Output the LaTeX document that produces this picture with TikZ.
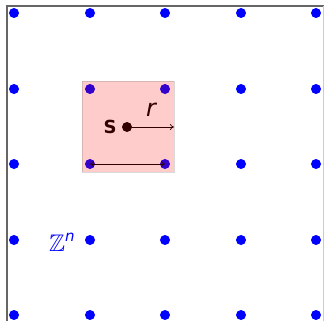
\documentclass[tikz,border=0pt]{standalone}
\usepackage{amssymb}
\usepackage{fontspec}
\setsansfont{DejaVu Sans}
\usetikzlibrary{arrows.meta}
\begin{document}
\begin{tikzpicture}[x=1pt,y=-1pt,
  latdot/.style={circle,fill=blue,inner sep=0pt,minimum size=10pt},
  arr/.style={draw=black,line width=0.7pt},
  lbl/.style={font=\fontsize{24}{27}\selectfont\sffamily\itshape}]
\useasboundingbox (0,0) rectangle (324,321);
\begin{scope}
\clip (0,0) rectangle (324,321);
\draw[gray!80!black,line width=1.2pt] (7,330) -- (7,6) -- (330,6);
\draw[gray!40,line width=1pt] (323,6) -- (323,330);
\end{scope}
\foreach \i/\x in {0/14,1/90,2/165,3/241,4/316}
  \foreach \j/\y in {0/13,1/89,2/164,3/240,4/315}
    \node[latdot] (d\i\j) at (\x,\y) {};
\node[circle,fill=black,inner sep=0pt,minimum size=10pt] (s) at (127,127) {};
\node[font=\fontsize{18}{21}\selectfont\sffamily\bfseries,text=black,inner sep=0pt] (slbl) at (110,127) {S};
\coordinate (rend) at (174,127);
\draw[arr,-{To[length=4pt,width=6pt]}] (s.center) -- (rend);
\node[lbl,inner sep=0pt] (rlbl) at (151,110) {r};
\draw[arr,{To[length=4pt,width=6pt]}-{To[length=4pt,width=6pt]}] (d12.center) -- (d22.center);
\node[text=blue,font=\fontsize{24}{28}\selectfont,anchor=base west,inner sep=0pt] (zn) at (49,251) {$\mathbb{Z}^{\hbox{\fontsize{15}{17}\selectfont\sffamily\itshape n}}$};
\fill[red,fill opacity=0.2,draw=gray,draw opacity=0.3] (82,81) rectangle (174,172);
\end{tikzpicture}
\end{document}
